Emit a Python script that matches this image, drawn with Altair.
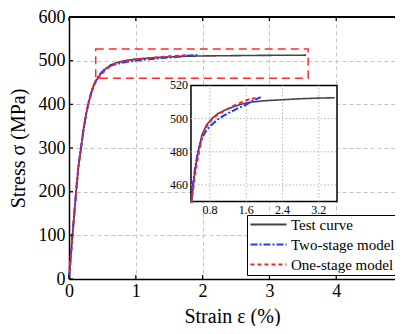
import altair as alt
import pandas as pd

SERIF = "Liberation Serif"

series_names = ["Test curve", "Two-stage model", "One-stage model"]
series_colors = ["#444444", "#1f3cff", "#ff2020"]
series_dashes = [[1, 0], [7, 2, 2, 2], [4, 3]]

test_strain = [0, 0.02, 0.05, 0.08, 0.11, 0.14, 0.18, 0.22, 0.26, 0.30, 0.35, 0.39, 0.43, 0.48,
               0.54, 0.62, 0.72, 0.84, 0.97, 1.12, 1.3, 1.5, 1.72, 2.0, 2.4, 2.8, 3.2, 3.55]
test_stress = [0, 38, 95, 150, 205, 255, 300, 345, 380, 408, 435, 450, 460, 471,
               480, 490, 496, 500, 503, 505, 507, 508.8, 510, 510.8, 511.4, 512, 512.4, 512.6]

two_strain = [0, 0.02, 0.05, 0.08, 0.11, 0.14, 0.18, 0.22, 0.26, 0.30, 0.35, 0.39, 0.43, 0.48,
              0.54, 0.62, 0.72, 0.84, 0.97, 1.1, 1.25, 1.4, 1.6, 1.75, 1.92]
two_stress = [0, 40, 98, 153, 208, 258, 302, 346, 381, 409, 436, 451, 462, 472,
              481, 488, 493, 496.5, 499.5, 501.8, 504, 506, 508.5, 511, 513]

one_strain = [0, 0.02, 0.05, 0.08, 0.11, 0.14, 0.18, 0.22, 0.26, 0.30, 0.35, 0.39, 0.44, 0.49,
              0.55, 0.62, 0.72, 0.84, 0.97, 1.1, 1.3, 1.5, 1.65, 1.8]
one_stress = [0, 38, 94, 149, 204, 254, 299, 344, 380, 408, 434, 449, 460, 470,
              479, 488, 495, 499.5, 502.5, 504.5, 507.5, 510, 511.5, 512.5]

x_ticks = [0, 1, 2, 3, 4]
y_ticks = [0, 100, 200, 300, 400, 500, 600]
x_domain = [0, 4.88]          # the reference is cut just past strain 5
y_domain = [0, 600]

zoom_box_x = [0.4, 3.58]
zoom_box_y = [460, 527]

inset_x_domain = [0.38, 3.6]
inset_y_domain = [450, 520]
inset_x_ticks = [0.8, 1.6, 2.4, 3.2]
inset_y_ticks = [460, 480, 500, 520]
inset_x_grid = [0.8, 1.6, 2.4, 3.2]
inset_y_grid = [460, 480, 500]

W, H = 326, 262
# where the inset sits, in the main chart's units (layout only)
INSET_AT_X = [1.826, 4.012]
INSET_AT_Y = [177.3, 443.2]

SX = (INSET_AT_X[1] - INSET_AT_X[0]) / (inset_x_domain[1] - inset_x_domain[0])
SY = (INSET_AT_Y[1] - INSET_AT_Y[0]) / (inset_y_domain[1] - inset_y_domain[0])


def map_x(field):
    return f"{INSET_AT_X[0]} + (datum.{field} - {inset_x_domain[0]}) * {SX}"


def map_y(field):
    return f"{INSET_AT_Y[0]} + (datum.{field} - {inset_y_domain[0]}) * {SY}"


rows = []
for name, xs, ys in zip(series_names, [test_strain, two_strain, one_strain],
                        [test_stress, two_stress, one_stress]):
    for i, (a, b) in enumerate(zip(xs, ys)):
        rows.append({"strain": a, "stress": b, "series": name, "idx": i})
df = pd.DataFrame(rows)

main_x = alt.Scale(domain=x_domain, nice=False, zero=False)
main_y = alt.Scale(domain=y_domain, nice=False, zero=False)

x_axis = alt.Axis(values=x_ticks, title="Strain ε (%)", format="d", grid=True,
                  gridDash=[4, 3], gridColor="#c4c4c4", gridWidth=1,
                  domain=True, domainColor="black", domainWidth=1.5, ticks=False,
                  labelFont=SERIF, labelFontSize=18, labelColor="black", labelPadding=3,
                  labelFlush=False, labelOverlap=False,
                  titleFont=SERIF, titleFontSize=20, titleFontWeight="normal",
                  titleColor="black", titlePadding=6)
y_axis = alt.Axis(values=y_ticks, title="Stress σ (MPa)", format="d", grid=True,
                  gridDash=[4, 3], gridColor="#c4c4c4", gridWidth=1,
                  domain=True, domainColor="black", domainWidth=1.5, ticks=False,
                  labelFont=SERIF, labelFontSize=18, labelColor="black", labelPadding=4,
                  labelFlush=False, labelOverlap=False,
                  titleFont=SERIF, titleFontSize=20, titleFontWeight="normal",
                  titleColor="black", titlePadding=10)


def X(field):
    return alt.X(field, scale=main_x, axis=x_axis)


def Y(field):
    return alt.Y(field, scale=main_y, axis=y_axis)


legend = alt.Legend(title=None, orient="none", legendX=178, legendY=198,
                    symbolType="stroke", symbolSize=1300, symbolStrokeWidth=2,
                    clipHeight=15,
                    labelFont=SERIF, labelFontSize=15, labelColor="black",
                    strokeColor="black", fillColor="white", padding=2,
                    rowPadding=4, labelOffset=3, cornerRadius=0)

color_enc = alt.Color("series:N", scale=alt.Scale(domain=series_names, range=series_colors),
                      legend=legend)
dash_enc = alt.StrokeDash("series:N", scale=alt.Scale(domain=series_names, range=series_dashes),
                          legend=legend)

layers = []

# red dashed zoom box
box_df = pd.DataFrame({"x1": [zoom_box_x[0]], "x2": [zoom_box_x[1]],
                       "y1": [zoom_box_y[0]], "y2": [zoom_box_y[1]]})
layers.append(
    alt.Chart(box_df).mark_rect(fillOpacity=0, stroke="#ff2a2a", strokeWidth=1.5,
                                strokeDash=[8, 5]).encode(
        x=X("x1:Q"), x2="x2:Q", y=Y("y1:Q"), y2="y2:Q")
)

widths = [1.6, 2, 2]
for name, w in zip(series_names, widths):
    layers.append(
        alt.Chart(df).transform_filter(alt.datum.series == name).mark_line(strokeWidth=w).encode(
            x=X("strain:Q"), y=Y("stress:Q"),
            color=color_enc, strokeDash=dash_enc, order="idx:Q")
    )

# inward ticks and the top border
xt = pd.DataFrame({"v": x_ticks})
yt = pd.DataFrame({"v": y_ticks})
layers.append(alt.Chart(xt).mark_rule(color="black", strokeWidth=1.2).encode(
    x=X("v:Q"), y=alt.value(H), y2=alt.value(H - 4)))
layers.append(alt.Chart(xt).mark_rule(color="black", strokeWidth=1.2).encode(
    x=X("v:Q"), y=alt.value(0), y2=alt.value(4)))
layers.append(alt.Chart(yt).mark_rule(color="black", strokeWidth=1.2).encode(
    y=Y("v:Q"), x=alt.value(0), x2=alt.value(4)))
layers.append(alt.Chart(xt).mark_rule(color="black", strokeWidth=1.5).encode(
    y=alt.value(0), x=alt.value(0), x2=alt.value(W)))

# ---------------- inset ----------------
inset_box = pd.DataFrame({"x1": [inset_x_domain[0]], "x2": [inset_x_domain[1]],
                          "y1": [inset_y_domain[0]], "y2": [inset_y_domain[1]]})
layers.append(
    alt.Chart(inset_box).transform_calculate(
        px1=map_x("x1"), px2=map_x("x2"), py1=map_y("y1"), py2=map_y("y2")
    ).mark_rect(fill="white", stroke="black", strokeWidth=1.5).encode(
        x=X("px1:Q"), x2="px2:Q", y=Y("py1:Q"), y2="py2:Q")
)

gx = pd.DataFrame({"v": inset_x_grid, "lo": inset_y_domain[0], "hi": inset_y_domain[1]})
gy = pd.DataFrame({"v": inset_y_grid, "lo": inset_x_domain[0], "hi": inset_x_domain[1]})
layers.append(
    alt.Chart(gx).transform_calculate(pv=map_x("v"), plo=map_y("lo"), phi=map_y("hi"))
    .mark_rule(color="#b4b4b4", strokeWidth=1, strokeDash=[1.5, 2]).encode(
        x=X("pv:Q"), y=Y("plo:Q"), y2="phi:Q"))
layers.append(
    alt.Chart(gy).transform_calculate(pv=map_y("v"), plo=map_x("lo"), phi=map_x("hi"))
    .mark_rule(color="#b4b4b4", strokeWidth=1, strokeDash=[1.5, 2]).encode(
        y=Y("pv:Q"), x=X("plo:Q"), x2="phi:Q"))

for name, col, dash, w in zip(series_names, series_colors, series_dashes, widths):
    layers.append(
        alt.Chart(df).transform_filter(
            (alt.datum.series == name) & (alt.datum.strain >= inset_x_domain[0])
            & (alt.datum.stress >= inset_y_domain[0] - 1)
        ).transform_calculate(px=map_x("strain"), py=map_y("stress"))
        .mark_line(strokeWidth=w, color=col, strokeDash=dash).encode(
            x=X("px:Q"), y=Y("py:Q"), order="idx:Q")
    )

# inset tick labels
ixl = pd.DataFrame({"v": inset_x_ticks, "base": inset_y_domain[0]})
iyl = pd.DataFrame({"v": inset_y_ticks, "base": inset_x_domain[0]})
layers.append(
    alt.Chart(ixl).transform_calculate(pv=map_x("v"), pb=map_y("base"))
    .mark_text(font=SERIF, fontSize=12, color="black", baseline="top", dy=3).encode(
        x=X("pv:Q"), y=Y("pb:Q"), text=alt.Text("v:Q", format=".1f")))
layers.append(
    alt.Chart(iyl).transform_calculate(pv=map_y("v"), pb=map_x("base"))
    .mark_text(font=SERIF, fontSize=12, color="black", align="right", baseline="middle", dx=-3).encode(
        y=Y("pv:Q"), x=X("pb:Q"), text=alt.Text("v:Q", format="d")))

chart = alt.layer(*layers).properties(
    width=W, height=H,
    autosize=alt.AutoSizeParams(type="none"),
    padding={"left": 61, "top": 9, "right": 0, "bottom": 47},
).configure_view(strokeWidth=0)

chart.save("out.html", embed_options={"renderer": "svg", "actions": False})
